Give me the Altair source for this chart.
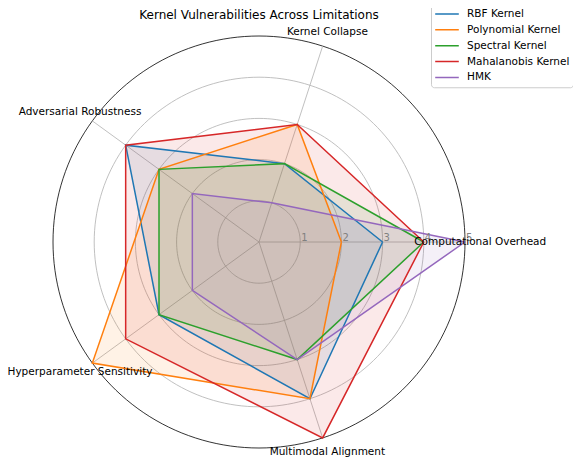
import altair as alt
import pandas as pd

categories = ["Computational Overhead", "Kernel Collapse", "Adversarial Robustness",
              "Hyperparameter Sensitivity", "Multimodal Alignment"]
series = ["RBF Kernel", "Polynomial Kernel", "Spectral Kernel", "Mahalanobis Kernel", "HMK"]
rbf = [3, 2, 4, 3, 4]
poly = [2, 3, 3, 5, 4]
spectral = [4, 2, 3, 3, 3]
mahal = [4, 3, 4, 4, 5]
hmk = [5, 1, 2, 2, 3]
colors = ["#1f77b4", "#ff7f0e", "#2ca02c", "#d62728", "#9467bd"]
ring_values = [1, 2, 3, 4, 5]
title_text = "Kernel Vulnerabilities Across Limitations"

n = len(categories)
all_vals = [rbf, poly, spectral, mahal, hmk]

rows = []
for si, (name, vals) in enumerate(zip(series, all_vals)):
    for k in range(n + 1):
        rows.append({"series": name, "sidx": si, "idx": k % n, "order": k, "value": vals[k % n]})
df = pd.DataFrame(rows)

ring_rows = [{"ring": r, "deg": d} for r in ring_values for d in range(0, 362, 2)]
rings = pd.DataFrame(ring_rows)
spokes = pd.DataFrame([{"idx": i, "r": r} for i in range(n) for r in (0, max(ring_values))])
labels = pd.DataFrame([{"idx": i, "cat": c} for i, c in enumerate(categories)])
ticks = pd.DataFrame([{"r": r, "t": str(r)} for r in ring_values])
title_df = pd.DataFrame([{"t": title_text}])

S = 41.2
W, H = 565, 455
cx, cy = 251, 234
xs = alt.Scale(domain=[-cx / S, (W - cx) / S], nice=False, zero=False)
ys = alt.Scale(domain=[-(H - cy) / S, cy / S], nice=False, zero=False)
X = lambda f: alt.X(f, type="quantitative", scale=xs, axis=None)
Y = lambda f: alt.Y(f, type="quantitative", scale=ys, axis=None)
ANG = "datum.idx*2*PI/5"
FONT = "DejaVu Sans"

ring_layer = alt.Chart(rings).transform_calculate(
    px="datum.ring*cos(datum.deg*PI/180)", py="datum.ring*sin(datum.deg*PI/180)",
    outer="datum.ring == 5 ? 'o' : 'i'"
).mark_line(strokeWidth=0.8).encode(
    x=X("px"), y=Y("py"), detail="ring:N", order="deg:Q",
    color=alt.Color("outer:N", scale=alt.Scale(domain=["i", "o"], range=["#b0b0b0", "#000000"]), legend=None),
)

spoke_layer = alt.Chart(spokes).transform_calculate(
    ang=ANG, px="datum.r*cos(datum.ang)", py="datum.r*sin(datum.ang)"
).mark_line(strokeWidth=0.8, color="#b0b0b0").encode(
    x=X("px"), y=Y("py"), detail="idx:N", order="r:Q")

base = alt.Chart(df).transform_calculate(
    ang=ANG, px="datum.value*cos(datum.ang)", py="datum.value*sin(datum.ang)")

color_scale = alt.Scale(domain=series, range=colors)

fill_layer = base.mark_line(filled=True, fillOpacity=0.1, strokeWidth=0).encode(
    x=X("px"), y=Y("py"), order="order:Q",
    color=alt.Color("series:N", scale=color_scale, legend=None), detail="series:N")

line_layer = base.mark_line(strokeWidth=1.5).encode(
    x=X("px"), y=Y("py"), order="order:Q",
    color=alt.Color("series:N", scale=color_scale, legend=alt.Legend(
        title=None, orient="none", legendX=423, legendY=-3.75,
        symbolType="stroke", symbolSize=557, symbolStrokeWidth=1.5,
        labelFontSize=10.5, labelFont=FONT, labelColor="black", labelLimit=300,
        labelOffset=7, fillColor="white", strokeColor="#cccccc", cornerRadius=3,
        padding=3, rowPadding=1.85, clipHeight=13.5)),
    detail="series:N")

label_layer = alt.Chart(labels).transform_calculate(
    ang=ANG, px="5.37*cos(datum.ang)", py="5.37*sin(datum.ang)"
).mark_text(fontSize=10.5, font=FONT, align="center", baseline="middle", color="black").encode(
    x=X("px"), y=Y("py"), text="cat:N")

tick_layer = alt.Chart(ticks).transform_calculate(py="0").mark_text(
    fontSize=10, font=FONT, align="left", baseline="alphabetic", color="#808080", dx=1, dy=-1
).encode(x=X("r"), y=Y("py"), text="t:N")

title_layer = alt.Chart(title_df).mark_text(
    fontSize=12, font=FONT, align="center", baseline="alphabetic", color="black"
).encode(x=alt.value(cx), y=alt.value(10.5), text="t:N")

chart = alt.layer(ring_layer, spoke_layer, fill_layer, line_layer, tick_layer, label_layer,
                  title_layer).resolve_scale(
    color="independent"
).properties(
    width=W, height=H,
    autosize=alt.AutoSizeParams(type="none"),
    padding={"left": 0, "top": 0, "right": 0, "bottom": 0},
).configure_view(stroke=None)

chart.save("out.html", embed_options={"renderer": "svg", "actions": False})
